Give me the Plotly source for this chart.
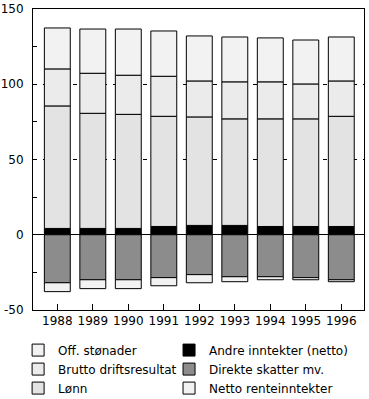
import plotly.graph_objects as go

years = ["1988", "1989", "1990", "1991", "1992", "1993", "1994", "1995", "1996"]
andre_inntekter = [4.2, 4.2, 4.2, 5.5, 6.2, 6.2, 5.5, 5.5, 5.5]
lonn = [81.4, 76.5, 75.8, 73.2, 72.1, 70.8, 71.5, 71.5, 73.2]
brutto_drift = [24.6, 26.6, 26.0, 26.6, 23.9, 24.6, 24.6, 23.2, 23.5]
off_stonader = [27.2, 29.4, 30.7, 30.1, 29.9, 29.8, 29.2, 29.2, 29.2]
direkte_skatter = [-31.9, -29.9, -29.9, -28.5, -26.5, -27.9, -27.9, -28.5, -29.9]
netto_rente = [-5.9, -5.9, -5.9, -5.4, -5.4, -3.3, -2.0, -1.4, -1.3]
y_tickvals = [-50, 0, 50, 100, 150]
y_ticktext = ["-50", "0", "50", "100", "150"]

FONT = "DejaVu Sans, sans-serif"
line = dict(color="black", width=1)

series = [
    ("Andre inntekter (netto)", andre_inntekter, "#000000", "legend2", 4),
    ("Lønn", lonn, "#e3e3e3", "legend", 3),
    ("Brutto driftsresultat", brutto_drift, "#ebebeb", "legend", 2),
    ("Off. stønader", off_stonader, "#f2f2f2", "legend", 1),
    ("Direkte skatter mv.", direkte_skatter, "#8c8c8c", "legend2", 5),
    ("Netto renteinntekter", netto_rente, "#f2f2f2", "legend2", 6),
]

fig = go.Figure()
for name, vals, color, leg, rank in series:
    fig.add_trace(go.Bar(
        x=years, y=vals, name=name, marker=dict(color=color, line=line),
        width=0.73, legend=leg, legendrank=rank,
    ))

fig.update_layout(
    width=369, height=399,
    margin=dict(l=33, r=5, t=9, b=89, autoexpand=False),
    barmode="relative",
    plot_bgcolor="white", paper_bgcolor="white",
    font=dict(family=FONT, size=12, color="black"),
    xaxis=dict(
        type="category", range=[-0.685, 8.64],
        showline=True, linecolor="black", linewidth=1, mirror=True,
        ticks="inside", ticklen=6, tickcolor="black",
        showgrid=False,
    ),
    yaxis=dict(
        range=[-50, 150], tickvals=y_tickvals, ticktext=y_ticktext,
        showline=True, linecolor="black", linewidth=1, mirror=True,
        ticks="", ticklabelstandoff=6,
        showgrid=True, gridcolor="black", gridwidth=1, griddash="4px,6px",
        zeroline=True, zerolinecolor="black", zerolinewidth=1,
        minor=dict(tickvals=[-25, 25, 75, 125], ticks="inside", ticklen=4, tickcolor="black", showgrid=False),
    ),
    legend=dict(
        orientation="v", x=-0.045, xanchor="left", y=-0.085, yanchor="top",
        traceorder="normal", font=dict(size=12), tracegroupgap=0,
        bgcolor="rgba(0,0,0,0)", itemclick=False,
    ),
    legend2=dict(
        orientation="v", x=0.411, xanchor="left", y=-0.085, yanchor="top",
        traceorder="normal", font=dict(size=12), tracegroupgap=0,
        bgcolor="rgba(0,0,0,0)", itemclick=False,
    ),
    showlegend=True,
)

fig.write_html("out.html", config={"displayModeBar": False},
               post_script="document.body.style.margin='0';")
